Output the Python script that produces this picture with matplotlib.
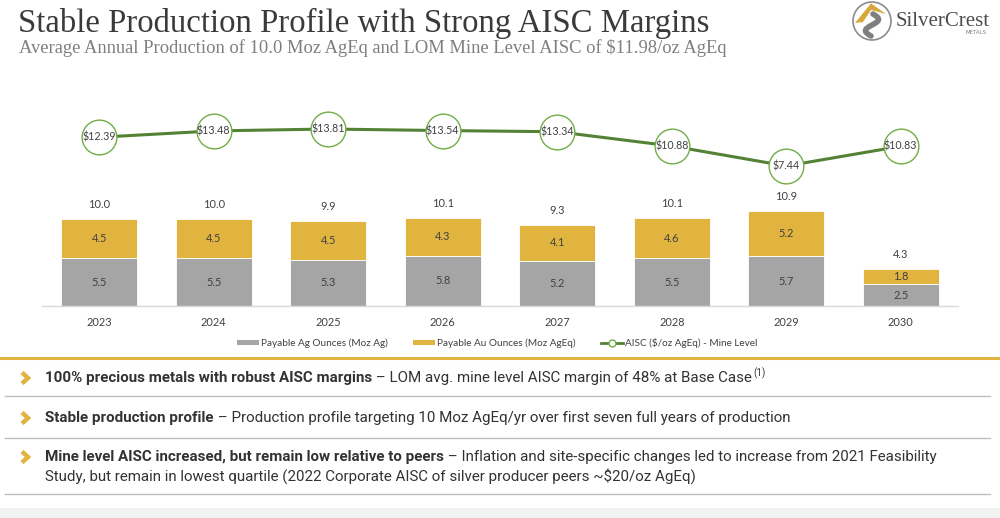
import matplotlib
matplotlib.use("Agg")
import matplotlib.pyplot as plt
from matplotlib.lines import Line2D
from matplotlib.patches import Patch, Circle, Polygon, Rectangle
import numpy as np

years = ["2023", "2024", "2025", "2026", "2027", "2028", "2029", "2030"]
ag = [5.5, 5.5, 5.3, 5.8, 5.2, 5.5, 5.7, 2.5]
au = [4.5, 4.5, 4.5, 4.3, 4.1, 4.6, 5.2, 1.8]
totals = [10.0, 10.0, 9.9, 10.1, 9.3, 10.1, 10.9, 4.3]
aisc = [12.39, 13.48, 13.81, 13.54, 13.34, 10.88, 7.44, 10.83]
legend_labels = ["Payable Ag Ounces (Moz Ag)", "Payable Au Ounces (Moz AgEq)",
                 "AISC ($/oz AgEq) - Mine Level"]

GRAY = "#A5A5A5"
GOLD = "#E1B440"
GREEN = "#548235"
GREEN_EDGE = "#70AD47"
TXT = "#404040"
CF = "Lato"
LFS = 7.9

W, H = 1000, 518
fig = plt.figure(figsize=(W / 100, H / 100), dpi=100)
fig.patch.set_facecolor("white")

def fx(px):
    return px / W

def fy(py):
    return 1 - py / H

# ---- chart axes
ax = fig.add_axes([fx(42), fy(306), fx(958) - fx(42), fy(100) - fy(306)])
x = np.arange(len(years))
bw = 0.66
ax.bar(x, ag, bw, color=GRAY, edgecolor="white", linewidth=0.6, zorder=2)
ax.bar(x, au, bw, bottom=ag, color=GOLD, edgecolor="white", linewidth=0.6, zorder=2)
for i in range(len(years)):
    ax.text(x[i], ag[i] / 2, f"{ag[i]:.1f}", ha="center", va="center", fontsize=LFS,
            color=TXT, family=CF)
    ax.text(x[i], ag[i] + au[i] / 2, f"{au[i]:.1f}", ha="center", va="center", fontsize=LFS,
            color=TXT, family=CF)
    ax.text(x[i], ag[i] + au[i] + 1.0, f"{totals[i]:.1f}", ha="center", va="bottom",
            fontsize=LFS, color=TXT, family=CF)
ax.set_xlim(-0.5, 7.5)
ax.set_ylim(0, 206 / 8.7)
ax.set_xticks(x)
ax.set_xticklabels(years, fontsize=LFS, color=TXT, family=CF)
ax.tick_params(axis="x", length=0, pad=8)
ax.set_yticks([])
for s in ["top", "right", "left"]:
    ax.spines[s].set_visible(False)
ax.spines["bottom"].set_color("#D9D9D9")
ax.spines["bottom"].set_linewidth(1.0)
ax.patch.set_alpha(0)

ax2 = ax.twinx()
ax2.set_ylim(-16.7, 18.81)
ax2.plot(x, aisc, color=GREEN, linewidth=2.2, marker="o", markersize=25,
         markerfacecolor="white", markeredgecolor=GREEN_EDGE, markeredgewidth=1.0, zorder=3)
for i in range(len(years)):
    ax2.text(x[i], aisc[i], f"${aisc[i]:.2f}", ha="center", va="center", fontsize=7.7,
             color=TXT, zorder=4, family=CF)
ax2.set_yticks([])
for s in ["top", "right", "left", "bottom"]:
    ax2.spines[s].set_visible(False)

handles = [Patch(facecolor=GRAY, edgecolor="none"),
           Patch(facecolor=GOLD, edgecolor="none"),
           Line2D([0], [0], color=GREEN, linewidth=2, marker="o", markersize=5,
                  markerfacecolor="white", markeredgecolor=GREEN_EDGE)]
fig.legend(handles, legend_labels, loc="center", bbox_to_anchor=(fx(497), fy(343)),
           ncol=3, frameon=False, prop={"family": CF, "size": 7.2}, labelcolor=TXT,
           handlelength=2.2, handleheight=0.5, columnspacing=2.5, handletextpad=0.2)

# ---- title
fig.text(fx(18), fy(23), "Stable Production Profile with Strong AISC Margins",
         fontsize=23.6, family="Liberation Serif", color="#3A3A3A", va="center", ha="left")
fig.text(fx(19), fy(48), "Average Annual Production of 10.0 Moz AgEq and LOM Mine Level AISC of $11.98/oz AgEq",
         fontsize=13.3, family="Liberation Serif", color="#7F7F7F", va="center", ha="left")

# ---- logo
lax = fig.add_axes([fx(852), fy(41), fx(40), fy(1) - fy(41)])
lax.set_xlim(-1, 1)
lax.set_ylim(-1, 1)
lax.set_aspect("equal")
lax.axis("off")
lax.add_patch(Circle((0, 0), 0.95, facecolor="white", edgecolor="#8C8C8C", linewidth=1.2))
lax.add_patch(Polygon([[-0.85, -0.1], [-0.05, 0.88], [0.7, 0.35], [-0.05, 0.55], [-0.45, -0.05]],
                      closed=True, facecolor="#D8A93A", edgecolor="none"))
t = np.linspace(0, 1, 60)
sx = 0.3 * np.sin(t * 2 * np.pi) + 0.05 - 0.1 * t
sy = 0.35 - 1.1 * t
lax.plot(sx, sy, color="#7F7F7F", linewidth=4, solid_capstyle="round")
fig.text(fx(896), fy(21), "SilverCrest", fontsize=15, family="Liberation Serif",
         color="#4D4D4D", va="center", ha="left")
fig.text(fx(987), fy(33), "METALS", fontsize=4, color="#7F7F7F", va="center", ha="right")

# ---- bottom text section
fig.add_artist(Line2D([0, 1], [fy(358), fy(358)], color="#E1B440", linewidth=2.2))
for yy in [396, 438, 494]:
    fig.add_artist(Line2D([fx(5), fx(990)], [fy(yy), fy(yy)], color="#BFBFBF", linewidth=1.0))
fig.add_artist(Rectangle((0, 0), 1, fy(508), facecolor="#F1F2F2", edgecolor="none"))

renderer = fig.canvas.get_renderer()
BFS = 10.9
rows = [
    (378, "100% precious metals with robust AISC margins", " \u2013 LOM avg. mine level AISC margin of 48% at Base Case", True, None),
    (418, "Stable production profile", " \u2013 Production profile targeting 10 Moz AgEq/yr over first seven full years of production", False, None),
    (457, "Mine level AISC increased, but remain low relative to peers", " \u2013 Inflation and site-specific changes led to increase from 2021 Feasibility", False,
     "Study, but remain in lowest quartile (2022 Corporate AISC of silver producer peers ~$20/oz AgEq)"),
]
for yy, bold, rest, sup, line2 in rows:
    fig.add_artist(Line2D([fx(22), fx(28), fx(22)], [fy(yy - 5.5), fy(yy), fy(yy + 5.5)],
                          color="#E1B440", linewidth=3.2, solid_joinstyle="miter",
                          solid_capstyle="butt"))
    tb = fig.text(fx(45), fy(yy), bold, fontsize=BFS, family="Roboto", fontweight="bold",
                  color="#333333", va="center", ha="left")
    bb = tb.get_window_extent(renderer)
    tr = fig.text(bb.x1 / W, fy(yy), rest, fontsize=BFS, family="Roboto",
                  color="#333333", va="center", ha="left")
    if sup:
        rb = tr.get_window_extent(renderer)
        fig.text(rb.x1 / W + 0.001, fy(yy - 5), "(1)", fontsize=7, family="Roboto",
                 color="#333333", va="center", ha="left")
    if line2:
        fig.text(fx(45), fy(yy + 19), line2, fontsize=BFS, family="Roboto",
                 color="#333333", va="center", ha="left")

fig.savefig("out.png", dpi=100)
